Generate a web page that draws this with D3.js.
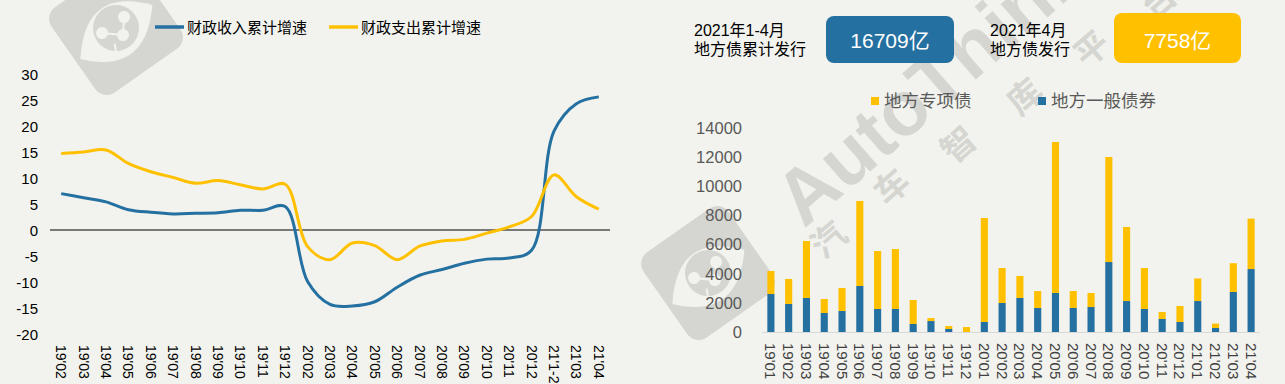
<!DOCTYPE html>
<html><head><meta charset="utf-8">
<script src="https://cdn.jsdelivr.net/npm/d3@7/dist/d3.min.js"></script>
<style>
html,body{margin:0;padding:0;background:#f2f3ee;}
svg{display:block;font-family:"Liberation Sans",Arial,"Noto Sans CJK SC",sans-serif;}
</style></head>
<body><svg id="c" width="1285" height="384"></svg>
<script>
// ---------- data ----------
const leftCats = ["19'02","19'03","19'04","19'05","19'06","19'07","19'08","19'09","19'10","19'11","19'12","20'02","20'03","20'04","20'05","20'06","20'07","20'08","20'09","20'10","20'11","20'12","21'1-2","21'03","21'04"];
const revenueGrowth = [7.0,6.2,5.4,3.9,3.4,3.1,3.2,3.3,3.8,3.8,4.5,-9.9,-14.3,-14.6,-13.8,-11.0,-8.7,-7.6,-6.4,-5.6,-5.4,-3.9,19.0,24.3,25.6];
const expenditureGrowth = [14.7,15.0,15.4,12.8,11.2,10.1,9.0,9.5,8.7,7.9,8.8,-3.2,-5.7,-2.5,-3.0,-5.7,-3.1,-2.1,-1.8,-0.6,0.6,2.6,10.6,6.4,4.0];
const leftTicks = [-20,-15,-10,-5,0,5,10,15,20,25,30];
const leftSeriesNames = ["财政收入累计增速","财政支出累计增速"];

const rightCats = ["19'01","19'02","19'03","19'04","19'05","19'06","19'07","19'08","19'09","19'10","19'11","19'12","20'01","20'02","20'03","20'04","20'05","20'06","20'07","20'08","20'09","20'10","20'11","20'12","21'01","21'02","21'03","21'04"];
const generalBonds = [2600,1920,2330,1300,1440,3150,1575,1575,550,750,205,0,685,1985,2330,1645,2670,1645,1710,4790,2120,1575,890,685,2120,275,2740,4310];
const specialBonds = [1575,1710,3900,960,1570,5820,3970,4105,1640,205,205,340,7120,2395,1505,1160,10340,1160,960,7190,5070,2805,480,1095,1545,300,1970,3450];
const rightTicks = [0,2000,4000,6000,8000,10000,12000,14000];
const rightSeriesNames = ["地方专项债","地方一般债券"];
const headerLabels = [["2021年1-4月","地方债累计发行"],["2021年4月","地方债发行"]];
const headerValues = ["16709亿","7758亿"];

// ---------- style ----------
const BLUE = "#2470a1", ORANGE = "#ffc000", BG = "#f2f3ee", WM = "#d5d6d1";
const svg = d3.select("#c");
svg.append("rect").attr("width",1285).attr("height",384).attr("fill",BG);

// ---------- watermark ----------
const wm = svg.append("g");
function logo(cx, cy){
  const g = wm.append("g").attr("transform",`translate(${cx},${cy}) rotate(-35)`);
  g.append("rect").attr("x",-52).attr("y",-52).attr("width",104).attr("height",104).attr("rx",14).attr("fill",WM);
  g.append("path").attr("d","M-47,5 Q-2,-52 43,2 Q-2,56 -47,5 Z").attr("fill",BG);
  g.append("circle").attr("r",23).attr("fill",WM);
  const dots = [[12.9,-4.4],[-14.3,-3.9],[1.7,9.8]];
  g.append("path").attr("d",`M${dots[0]}L${dots[2]}L${dots[1]}`).attr("stroke",BG).attr("stroke-width",2).attr("fill","none");
  g.append("path").attr("d","M-10,12 L-14,20").attr("stroke",BG).attr("stroke-width",2);
  dots.forEach(d=>g.append("circle").attr("cx",d[0]).attr("cy",d[1]).attr("r",6).attr("fill",BG));
}
logo(116,28);
logo(708,273);
wm.append("text").attr("transform","translate(804,229) rotate(-41)")
  .attr("font-size",77).attr("font-weight","bold").attr("fill",WM).text("AutoThink");
const wmChars = [["汽",827,238],["车",890,185],["智",957,143],["库",1023,95],["平",1090,47],["台",1157,-1]];
wmChars.forEach(c=>wm.append("text").attr("transform",`translate(${c[1]},${c[2]}) rotate(-41)`)
  .attr("text-anchor","middle").attr("dominant-baseline","central").attr("font-size",34)
  .attr("font-family","'Noto Sans CJK SC',sans-serif").attr("font-weight","bold").attr("fill",WM).text(c[0]));

// ---------- left chart ----------
const xL = d3.scaleBand().domain(leftCats).range([50,610]);
const yL = d3.scaleLinear().domain([-20,30]).range([334,74]);
const L = svg.append("g");
L.append("line").attr("x1",50).attr("x2",610).attr("y1",yL(0)).attr("y2",yL(0)).attr("stroke","#000").attr("stroke-width",1);
L.selectAll(".yt").data(leftTicks).join("text")
  .attr("x",38).attr("y",d=>yL(d)).attr("text-anchor","end").attr("dominant-baseline","central")
  .attr("font-size",15).attr("fill","#000").text(d=>d);
L.selectAll(".xt").data(leftCats).join("text")
  .attr("transform",d=>`translate(${xL(d)+xL.bandwidth()/2},345) rotate(90)`)
  .attr("text-anchor","start").attr("dominant-baseline","central")
  .attr("font-size",14).attr("fill","#000").text(d=>d);
const line = d3.line().x((d,i)=>xL(leftCats[i])+xL.bandwidth()/2).y(d=>yL(d)).curve(d3.curveCatmullRom.alpha(0.5));
L.append("path").attr("d",line(revenueGrowth)).attr("fill","none").attr("stroke",BLUE).attr("stroke-width",3);
L.append("path").attr("d",line(expenditureGrowth)).attr("fill","none").attr("stroke",ORANGE).attr("stroke-width",3);
// legend
[[155,BLUE,leftSeriesNames[0]],[329,ORANGE,leftSeriesNames[1]]].forEach(l=>{
  L.append("line").attr("x1",l[0]).attr("x2",l[0]+29).attr("y1",27).attr("y2",27).attr("stroke",l[1]).attr("stroke-width",3.5);
  L.append("text").attr("x",l[0]+32).attr("y",27).attr("dominant-baseline","central").attr("font-size",15).attr("fill","#000").text(l[2]);
});

// ---------- right chart ----------
const xR = d3.scaleBand().domain(rightCats).range([762,1260]).paddingInner(0.6).paddingOuter(0.3);
const yR = d3.scaleLinear().domain([0,14000]).range([332,127.5]);
const R = svg.append("g");
R.selectAll(".yt").data(rightTicks).join("text")
  .attr("x",742).attr("y",d=>yR(d)).attr("text-anchor","end").attr("dominant-baseline","central")
  .attr("font-size",16.5).attr("fill","#595959").text(d=>d);
R.selectAll(".gb").data(generalBonds).join("rect")
  .attr("x",(d,i)=>xR(rightCats[i])).attr("width",xR.bandwidth())
  .attr("y",d=>yR(d)).attr("height",d=>yR(0)-yR(d)).attr("fill",BLUE);
R.selectAll(".sb").data(specialBonds).join("rect")
  .attr("x",(d,i)=>xR(rightCats[i])).attr("width",xR.bandwidth())
  .attr("y",(d,i)=>yR(d+generalBonds[i])).attr("height",(d,i)=>yR(generalBonds[i])-yR(d+generalBonds[i])).attr("fill",ORANGE);
R.append("line").attr("x1",762).attr("x2",1260).attr("y1",yR(0)+0.5).attr("y2",yR(0)+0.5).attr("stroke","#d9d9d9").attr("stroke-width",1);
R.selectAll(".xt").data(rightCats).join("text")
  .attr("transform",d=>`translate(${xR(d)+xR.bandwidth()/2},343) rotate(90)`)
  .attr("text-anchor","start").attr("dominant-baseline","central")
  .attr("font-size",15).attr("fill","#404040").text(d=>d);
// legend
[[871,ORANGE,rightSeriesNames[0]],[1038,BLUE,rightSeriesNames[1]]].forEach(l=>{
  R.append("rect").attr("x",l[0]).attr("y",97).attr("width",8).attr("height",8).attr("fill",l[1]);
  R.append("text").attr("x",l[0]+13).attr("y",101).attr("dominant-baseline","central").attr("font-size",17.5).attr("fill","#595959").text(l[2]);
});
// header
[[694,headerLabels[0]],[990,headerLabels[1]]].forEach(h=>{
  R.append("text").attr("x",h[0]).attr("y",36).attr("font-size",16).attr("fill","#000").text(h[1][0]);
  R.append("text").attr("x",h[0]).attr("y",55).attr("font-size",16).attr("fill","#000").text(h[1][1]);
});
[[826,16,128,47,BLUE,headerValues[0]],[1114,13,127,50,ORANGE,headerValues[1]]].forEach(b=>{
  R.append("rect").attr("x",b[0]).attr("y",b[1]).attr("width",b[2]).attr("height",b[3]).attr("rx",8).attr("fill",b[4]);
  R.append("text").attr("x",b[0]+b[2]/2).attr("y",40).attr("text-anchor","middle").attr("dominant-baseline","central")
    .attr("font-size",21).attr("fill","#fff").text(b[5]);
});
</script></body></html>
